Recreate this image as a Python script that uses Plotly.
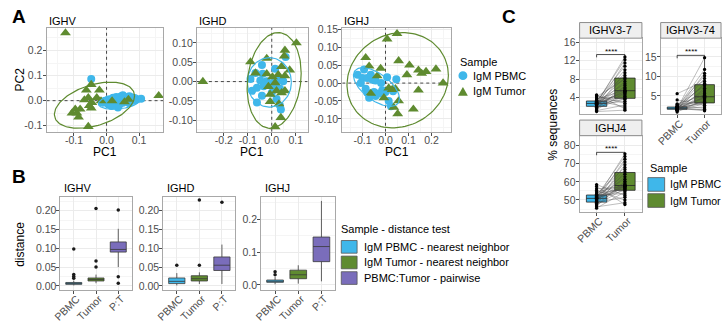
import numpy as np
import plotly.graph_objects as go

# ---------------- DATA ----------------
# Panel A: PCA coordinates (PC1, PC2)
ighv_pbmc_pc1 = [-0.047, -0.012, 0.005, 0.02, 0.035, 0.045, 0.055, 0.07, 0.08, 0.09, 0.106, 0.025, 0.04,
                 0.05, 0.06, 0.075, 0.085, 0.035, 0.005, 0.015, 0.065, 0.03, -0.005, 0.05, 0.07]
ighv_pbmc_pc2 = [0.086, -0.008, 0.005, 0.012, 0.005, 0.018, 0.008, 0.018, 0.012, 0.005, 0.008, -0.008, -0.014,
                 -0.008, 0.0, 0.0, 0.0, -0.027, -0.014, -0.021, 0.005, 0.015, 0.0, 0.022, -0.01]
ighv_tumor_pc1 = [-0.126, 0.16, -0.047, -0.062, -0.022, -0.068, -0.056, -0.03, -0.017, -0.045, -0.053, -0.047,
                  -0.096, -0.081, -0.106, -0.091, -0.086, -0.056, 0.017, 0.055, 0.067]
ighv_tumor_pc2 = [0.27, 0.02, 0.064, 0.042, 0.042, 0.003, 0.012, 0.012, -0.001, -0.008, -0.02, -0.03,
                  -0.034, -0.034, -0.05, -0.05, -0.066, -0.103, -0.001, -0.005, 0.005]

ighd_pbmc_pc1 = [0.058, -0.041, 0.014, -0.038, -0.089, -0.048, -0.021, 0.007, 0.027, 0.048, -0.062, -0.034,
                 0.014, 0.034, -0.041, 0.0, -0.062, 0.02, 0.034, 0.038, -0.027, -0.082, -0.068]
ighd_pbmc_pc2 = [0.064, 0.043, 0.033, 0.02, 0.007, 0.003, 0.001, -0.003, 0.003, 0.001, -0.016, -0.012,
                 -0.012, -0.018, -0.037, -0.029, -0.054, -0.045, -0.062, -0.072, -0.005, -0.024, 0.022]
ighd_tumor_pc1 = [-0.288, 0.103, 0.055, 0.052, -0.089, -0.021, 0.041, 0.075, -0.068, -0.021, 0.003, 0.027,
                  0.055, 0.014, -0.014, 0.02, 0.041, 0.055, -0.007, -0.007, 0.03, 0.038, 0.014]
ighd_tumor_pc2 = [0.0, 0.1, 0.081, 0.066, 0.051, 0.06, 0.039, 0.03, 0.022, 0.02, 0.012, 0.018,
                  0.015, -0.003, -0.013, -0.024, -0.029, -0.024, -0.033, -0.052, -0.058, -0.093, -0.117]

ighj_pbmc_pc1 = [-0.093, -0.121, -0.1, -0.079, -0.057, -0.064, -0.043, -0.019, 0.007, 0.047, -0.107, -0.086,
                 -0.079, -0.05, -0.029, -0.071, -0.043, 0.0, 0.033, 0.014, 0.024, -0.014]
ighj_pbmc_pc2 = [0.038, 0.023, 0.014, 0.014, 0.009, 0.023, 0.007, 0.0, 0.016, 0.011, 0.0, -0.016,
                 -0.027, -0.025, -0.029, -0.041, -0.036, -0.025, -0.023, -0.05, -0.065, -0.02]
ighj_tumor_pc1 = [0.05, 0.007, -0.086, -0.071, -0.021, 0.057, 0.104, 0.093, 0.143, 0.157, 0.176, 0.219,
                  0.25, 0.143, 0.121, -0.036, 0.014, 0.029, 0.043, -0.007, -0.064, 0.057, 0.036, 0.053]
ighj_tumor_pc2 = [0.138, 0.123, 0.071, 0.047, 0.041, 0.062, 0.05, 0.023, 0.036, 0.027, 0.032, 0.039,
                  0.0, -0.02, -0.073, 0.02, -0.014, -0.018, -0.016, -0.041, -0.029, -0.05, -0.068, -0.086]

# 95% ellipses: centre x, centre y, half-width x, half-height y, correlation
ighv_ellipse_pbmc = [0.04, -0.003, 0.065, 0.031, 0.3]
ighv_ellipse_tumor = [-0.037, -0.018, 0.123, 0.092, 0.4]
ighd_ellipse_pbmc = [-0.01, -0.002, 0.092, 0.064, 0.0]
ighd_ellipse_tumor = [0.01, 0.003, 0.113, 0.124, 0.15]
ighj_ellipse_pbmc = [-0.039, -0.011, 0.10, 0.054, -0.6]
ighj_ellipse_tumor = [0.053, 0.008, 0.22, 0.133, 0.1]

# Panel B: distance boxplots [q1, median, q3, lower whisker, upper whisker] and outliers
b_categories = ["PBMC", "Tumor", "P:T"]
b_ighv_stats = [[0.004, 0.006, 0.009, 0.001, 0.014], [0.013, 0.017, 0.021, 0.007, 0.030], [0.090, 0.097, 0.117, 0.050, 0.152]]
b_ighv_outliers = [[0.098, 0.030, 0.025, 0.020], [0.206, 0.066, 0.050], [0.202, 0.024, 0.007]]
b_ighd_stats = [[0.006, 0.012, 0.021, 0.001, 0.034], [0.013, 0.019, 0.027, 0.005, 0.036], [0.041, 0.055, 0.077, 0.005, 0.110]]
b_ighd_outliers = [[0.055], [0.229, 0.055], [0.223]]
b_ighj_stats = [[0.008, 0.011, 0.015, 0.002, 0.024], [0.019, 0.031, 0.045, 0.004, 0.060], [0.071, 0.117, 0.146, 0.011, 0.256]]
b_ighj_outliers = [[0.040, 0.031], [], []]

# Panel C: paired % sequences (PBMC, Tumor) per patient
c_categories = ["PBMC", "Tumor"]
ighv3_7_pbmc = [2.7, 3.0, 2.2, 3.3, 2.8, 1.9, 3.5, 2.6, 4.2, 2.4, 3.1, 1.6, 2.9, 2.0, 3.7, 2.5, 2.7, 1.4, 3.2, 2.8,
                2.1, 3.9, 1.8, 3.0, 2.6, 4.4, 1.2, 3.4, 4.6, 1.0]
ighv3_7_tumor = [12.8, 12.2, 11.5, 10.8, 10.0, 9.4, 8.8, 8.3, 8.0, 7.5, 7.0, 6.6, 6.2, 5.9, 5.6, 5.4, 5.3, 5.1, 4.9, 4.6,
                 4.3, 4.0, 3.8, 3.6, 3.2, 2.8, 2.4, 2.0, 1.6, 1.3]
ighv3_74_pbmc = [1.8, 2.0, 1.5, 2.3, 1.7, 5.6, 1.6, 1.9, 2.5, 1.2, 1.8, 2.1, 1.4, 3.0, 1.7, 1.5, 2.2, 1.9, 0.9, 1.6,
                 2.8, 1.8, 2.0, 1.3, 4.0, 1.7, 2.4, 1.5, 2.1, 1.9]
ighv3_74_tumor = [14.8, 11.8, 10.8, 10.2, 9.5, 8.8, 8.2, 8.0, 7.6, 7.0, 6.5, 6.0, 5.6, 5.2, 4.9, 4.7, 4.5, 4.3, 4.0, 3.7,
                  3.5, 3.3, 3.2, 3.0, 2.6, 2.2, 1.9, 1.6, 1.4, 1.2]
ighj4_pbmc = [50.8, 52.2, 49.6, 51.5, 48.5, 53.2, 50.3, 47.8, 51.8, 50.0, 52.5, 46.8, 51.0, 49.2, 54.5, 50.5, 48.2,
              52.0, 56.2, 50.7, 47.3, 53.8, 51.2, 45.5, 52.8, 58.5, 48.7, 55.3, 46.2, 57.5]
ighj4_tumor = [75.5, 74.0, 72.5, 71.0, 69.5, 68.0, 66.8, 65.5, 64.2, 62.8, 61.5, 60.3, 59.4, 58.6, 58.1, 57.9, 57.8,
               57.5, 57.2, 56.8, 56.3, 55.8, 55.2, 54.5, 53.5, 52.5, 51.5, 50.0, 48.5, 47.5]
c_bracket_y = [13.3, 15.4, 76.3]
c_bracket_drop = [0.6, 0.75, 1.6]
c_signif = ["****", "****", "****"]

# ---------------- STYLE ----------------
W, H = 723, 323
FONT = "Liberation Sans, Arial, sans-serif"
BLUE = "#3fb7ea"
GREEN = "#5f8b30"
PURPLE = "#7a6dbb"
GRID = "#ebebeb"
MINOR = "#f5f5f5"
BORDER = "#a8a8a8"
TICKC = "#4d4d4d"
TICKFS = 10.5


def px(x):
    return x / W


def py(y):
    return 1 - y / H


def refs(i):
    return ("x" if i == 1 else f"x{i}"), ("y" if i == 1 else f"y{i}")


def axis_common():
    return dict(showgrid=True, gridcolor=GRID, gridwidth=0.8, zeroline=False, showline=True, mirror=True,
                linecolor=BORDER, linewidth=1, ticks="outside", ticklen=3, tickwidth=0.8, tickcolor=TICKC,
                tickfont=dict(family=FONT, size=TICKFS, color=TICKC))


layout_axes = {}
fig = go.Figure()
shapes = []
annots = []


def lin_y(i, ypix, rng, ticks, minor, f):
    xr, yr = refs(i)
    d = axis_common()
    d.update(domain=[py(ypix[1]), py(ypix[0])], anchor=xr, range=rng, tickmode="array", tickvals=ticks,
             ticktext=[f(v) for v in ticks], ticklabelstandoff=-2,
             minor=dict(tickmode="array", tickvals=minor, showgrid=True, gridcolor=MINOR, ticks=""))
    layout_axes["yaxis" if i == 1 else f"yaxis{i}"] = d


def lin_x(i, xpix, rng, ticks, minor, f):
    xr, yr = refs(i)
    d = axis_common()
    d.update(domain=[px(xpix[0]), px(xpix[1])], anchor=yr, range=rng, tickmode="array", tickvals=ticks,
             ticktext=[f(v) for v in ticks], ticklabelstandoff=-4,
             minor=dict(tickmode="array", tickvals=minor, showgrid=True, gridcolor=MINOR, ticks=""))
    layout_axes["xaxis" if i == 1 else f"xaxis{i}"] = d


def cat_x(i, xpix, cats, show):
    xr, yr = refs(i)
    d = axis_common()
    d.update(domain=[px(xpix[0]), px(xpix[1])], anchor=yr, type="category", categoryorder="array",
             categoryarray=cats, range=[-0.6, len(cats) - 0.4], showticklabels=show, tickangle=-45,
             ticklabelstandoff=-5, ticklabelshift=3, ticks="outside" if show else "")
    layout_axes["xaxis" if i == 1 else f"xaxis{i}"] = d


f1 = lambda v: f"{v:.1f}"
f2 = lambda v: f"{v:.2f}"
f0 = lambda v: f"{v:.0f}"


def text(x, y, s, size=11, color="black", xanchor="left", yanchor="middle", bold=False, angle=0):
    annots.append(dict(x=px(x), y=py(y), xref="paper", yref="paper", text=f"<b>{s}</b>" if bold else s,
                       showarrow=False, xanchor=xanchor, yanchor=yanchor, textangle=angle,
                       font=dict(family=FONT, size=size, color=color)))


def rect(x0, y0, x1, y1, fill, line="#555555", lw=1):
    shapes.append(dict(type="rect", xref="paper", yref="paper", x0=px(x0), x1=px(x1), y0=py(y1), y1=py(y0),
                       fillcolor=fill, line=dict(color=line, width=lw), layer="above"))


def ellipse(p, n=120):
    cx, cy, sx, sy, rho = p
    t = np.linspace(0, 2 * np.pi, n)
    return cx + sx * np.cos(t), cy + sy * (rho * np.cos(t) + np.sqrt(1 - rho ** 2) * np.sin(t))


# ---------------- PANEL A ----------------
a_panels = [
    (1, "IGHV", (39, 157), [-0.184, 0.174], [-0.1, 0, 0.1], [-0.15, -0.05, 0.05, 0.15], f1,
     [-0.124, 0.29], [-0.1, 0, 0.1, 0.2], [-0.05, 0.05, 0.15, 0.25], f1,
     ighv_pbmc_pc1, ighv_pbmc_pc2, ighv_tumor_pc1, ighv_tumor_pc2, ighv_ellipse_pbmc, ighv_ellipse_tumor),
    (2, "IGHD", (191, 303), [-0.313, 0.15], [-0.2, -0.1, 0, 0.1], [-0.25, -0.15, -0.05, 0.05], f1,
     [-0.130, 0.139], [-0.1, -0.05, 0, 0.05, 0.1], [-0.125, -0.075, -0.025, 0.025, 0.075, 0.125], f2,
     ighd_pbmc_pc1, ighd_pbmc_pc2, ighd_tumor_pc1, ighd_tumor_pc2, ighd_ellipse_pbmc, ighd_ellipse_tumor),
    (3, "IGHJ", (338, 448), [-0.1876, 0.2845], [-0.1, 0, 0.1, 0.2], [-0.15, -0.05, 0.05, 0.15, 0.25], f1,
     [-0.136, 0.154], [-0.1, -0.05, 0, 0.05, 0.1, 0.15], [-0.125, -0.075, -0.025, 0.025, 0.075, 0.125], f2,
     ighj_pbmc_pc1, ighj_pbmc_pc2, ighj_tumor_pc1, ighj_tumor_pc2, ighj_ellipse_pbmc, ighj_ellipse_tumor),
]
A_Y = (23.5, 130)
for (i, title, xpix, xr_, xt, xm, xf, yr_, yt, ym, yf, p1, p2, t1, t2, ep, et) in a_panels:
    lin_x(i, xpix, xr_, xt, xm, xf)
    lin_y(i, A_Y, yr_, yt, ym, yf)
    xa, ya = refs(i)
    # dashed reference lines at 0
    fig.add_trace(go.Scatter(x=[0, 0], y=yr_, mode="lines", xaxis=xa, yaxis=ya, showlegend=False,
                             line=dict(color="#1a1a1a", width=0.8, dash="3px,3px")))
    fig.add_trace(go.Scatter(x=xr_, y=[0, 0], mode="lines", xaxis=xa, yaxis=ya, showlegend=False,
                             line=dict(color="#1a1a1a", width=0.8, dash="3px,3px")))
    fig.add_trace(go.Scatter(x=p1, y=p2, mode="markers", xaxis=xa, yaxis=ya, showlegend=False,
                             marker=dict(symbol="circle", size=8, color=BLUE, line=dict(width=0))))
    fig.add_trace(go.Scatter(x=t1, y=t2, mode="markers", xaxis=xa, yaxis=ya, showlegend=False,
                             marker=dict(symbol="triangle-up", size=9.5, color=GREEN, line=dict(width=0))))
    ex, ey = ellipse(ep)
    fig.add_trace(go.Scatter(x=ex, y=ey, mode="lines", xaxis=xa, yaxis=ya, showlegend=False,
                             line=dict(color=BLUE, width=1.2)))
    ex, ey = ellipse(et)
    fig.add_trace(go.Scatter(x=ex, y=ey, mode="lines", xaxis=xa, yaxis=ya, showlegend=False,
                             line=dict(color=GREEN, width=1.2)))
    text(xpix[0], 16, title, size=11)
    text((xpix[0] + xpix[1]) / 2, 151, "PC1", size=12, xanchor="center")

text(12, 76.5, "PC2", size=12, xanchor="center", angle=-90)
text(2, 12, "A", size=19, bold=True)

# legend A
text(455, 58.5, "Sample", size=11)
shapes.append(dict(type="circle", xref="paper", yref="paper", x0=px(455.5), x1=px(464.5), y0=py(77), y1=py(68),
                   fillcolor=BLUE, line=dict(width=0), layer="above"))
shapes.append(dict(type="path", xref="paper", yref="paper",
                   path=f"M {px(455)},{py(93)} L {px(465)},{py(93)} L {px(460)},{py(84)} Z",
                   fillcolor=GREEN, line=dict(width=0), layer="above"))
text(468, 72.5, "IgM PBMC", size=11)
text(468, 88.5, "IgM Tumor", size=11)

# ---------------- PANEL B ----------------
b_colors = [BLUE, GREEN, PURPLE]
b_panels = [
    (4, "IGHV", (53, 125), [-0.0104, 0.2364], [0, 0.05, 0.1, 0.15, 0.2], [0.025, 0.075, 0.125, 0.175, 0.225], f2,
     b_ighv_stats, b_ighv_outliers),
    (5, "IGHD", (157, 230), [-0.0104, 0.2364], [0, 0.05, 0.1, 0.15, 0.2], [0.025, 0.075, 0.125, 0.175, 0.225], f2,
     b_ighd_stats, b_ighd_outliers),
    (6, "IGHJ", (256, 331), [-0.0147, 0.2676], [0, 0.1, 0.2], [0.05, 0.15, 0.25], f1,
     b_ighj_stats, b_ighj_outliers),
]
B_Y = (197, 292)
for (i, title, xpix, yr_, yt, ym, yf, stats, outl) in b_panels:
    cat_x(i, xpix, b_categories, True)
    lin_y(i, B_Y, yr_, yt, ym, yf)
    xa, ya = refs(i)
    for c, s, o, col in zip(b_categories, stats, outl, b_colors):
        fig.add_trace(go.Box(x=[c], q1=[s[0]], median=[s[1]], q3=[s[2]], lowerfence=[s[3]], upperfence=[s[4]],
                             xaxis=xa, yaxis=ya, fillcolor=col, line=dict(color="#3a3a3a", width=0.8),
                             width=0.72, whiskerwidth=0, boxpoints=False, showlegend=False))
        if o:
            fig.add_trace(go.Scatter(x=[c] * len(o), y=o, mode="markers", xaxis=xa, yaxis=ya, showlegend=False,
                                     marker=dict(size=3.5, color="#1a1a1a")))
    text(xpix[0] + 2, 188, title, size=11)

text(12, 245, "distance", size=12, xanchor="center", angle=-90)
text(2, 176, "B", size=19, bold=True)

# legend B
text(335, 230, "Sample - distance test", size=11)
for k, (lab, col) in enumerate(zip(["IgM PBMC - nearest neighbor", "IgM Tumor - nearest neighbor",
                                    "PBMC:Tumor - pairwise"], b_colors)):
    yc = 248 + k * 16
    rect(337, yc - 6.5, 353, yc + 6.5, col, line="#555555", lw=0.8)
    text(358, yc, lab, size=11)

# ---------------- PANEL C ----------------
c_panels = [
    (7, "IGHV3-7", (578, 641), (34, 112), [0.42, 16.84], [4, 8, 12, 16], [2, 6, 10, 14], False,
     ighv3_7_pbmc, ighv3_7_tumor),
    (8, "IGHV3-74", (660, 721), (34, 112), [0.33, 19.8], [5, 10, 15], [2.5, 7.5, 12.5, 17.5], True,
     ighv3_74_pbmc, ighv3_74_tumor),
    (9, "IGHJ4", (578, 641), (134, 212), [43.5, 85.5], [50, 60, 70, 80], [45, 55, 65, 75, 85], True,
     ighj4_pbmc, ighj4_tumor),
]


def box_stats(v):
    v = np.asarray(v, dtype=float)
    q1, med, q3 = np.percentile(v, [25, 50, 75])
    iqr = q3 - q1
    lo = v[v >= q1 - 1.5 * iqr].min()
    hi = v[v <= q3 + 1.5 * iqr].max()
    return q1, med, q3, lo, hi


for k, (i, title, xpix, ypix, yr_, yt, ym, show, pb, tu) in enumerate(c_panels):
    cat_x(i, xpix, c_categories, show)
    lin_y(i, ypix, yr_, yt, ym, f0)
    xa, ya = refs(i)
    for c, vals, col in zip(c_categories, [pb, tu], [BLUE, GREEN]):
        q1, med, q3, lo, hi = box_stats(vals)
        fig.add_trace(go.Box(x=[c], q1=[q1], median=[med], q3=[q3], lowerfence=[lo], upperfence=[hi],
                             xaxis=xa, yaxis=ya, fillcolor=col, line=dict(color="#262626", width=0.8),
                             width=0.72, whiskerwidth=0, boxpoints=False, showlegend=False))
    lx, ly = [], []
    for a, b in zip(pb, tu):
        lx += ["PBMC", "Tumor", None]
        ly += [a, b, None]
    fig.add_trace(go.Scatter(x=lx, y=ly, mode="lines", xaxis=xa, yaxis=ya, showlegend=False,
                             line=dict(color="rgba(70,70,70,0.5)", width=0.7)))
    fig.add_trace(go.Scatter(x=["PBMC"] * len(pb) + ["Tumor"] * len(tu), y=list(pb) + list(tu), mode="markers",
                             xaxis=xa, yaxis=ya, showlegend=False, marker=dict(size=3.3, color="black")))
    by, bd = c_bracket_y[k], c_bracket_drop[k]
    fig.add_trace(go.Scatter(x=["PBMC", "PBMC", "Tumor", "Tumor"], y=[by - bd, by, by, by - bd], mode="lines",
                             xaxis=xa, yaxis=ya, showlegend=False, line=dict(color="black", width=0.7)))
    annots.append(dict(x=0.5, y=by, xref=xa, yref=ya, text=c_signif[k], showarrow=False, xanchor="center",
                       yanchor="bottom", yshift=-3, font=dict(family=FONT, size=8, color="black")))
    # strip
    rect(xpix[0], ypix[0] - 16, xpix[1], ypix[0], "#efefef", line="#8c8c8c", lw=1)
    text((xpix[0] + xpix[1]) / 2, ypix[0] - 8, title, size=11, xanchor="center")

text(551, 123, "% sequences", size=12, xanchor="center", angle=-90)
text(498, 12, "C", size=19, bold=True)

# legend C
text(647, 167, "Sample", size=11)
for k, (lab, col) in enumerate(zip(["IgM PBMC", "IgM Tumor"], [BLUE, GREEN])):
    yc = 184 + k * 16.5
    rect(647, yc - 7, 664, yc + 7, col, line="#555555", lw=0.8)
    text(667, yc, lab, size=10.6)

fig.update_layout(width=W, height=H, margin=dict(l=0, r=0, t=0, b=0), paper_bgcolor="white",
                  plot_bgcolor="white", shapes=shapes, annotations=annots, boxmode="overlay",
                  font=dict(family=FONT), **layout_axes)
fig.write_html("out.html")
